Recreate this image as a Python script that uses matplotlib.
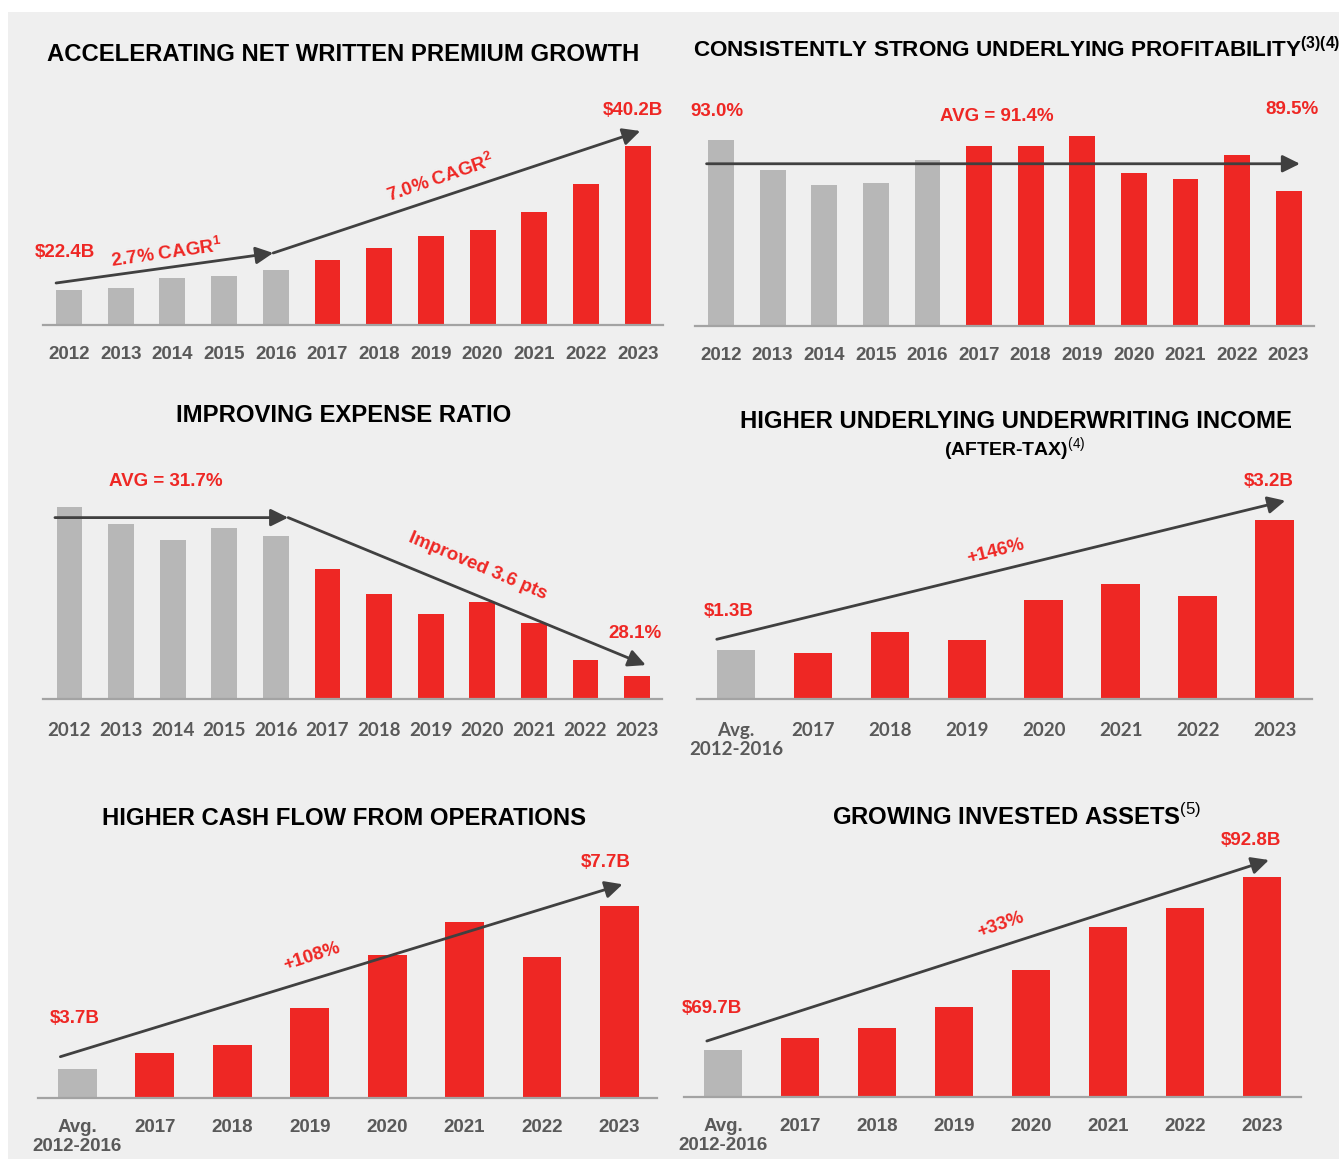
import matplotlib.pyplot as plt
from matplotlib.patches import Rectangle
import numpy as np

plt.rcParams['mathtext.fontset'] = 'custom'
plt.rcParams['mathtext.rm'] = 'Liberation Sans'
plt.rcParams['mathtext.bf'] = 'Liberation Sans:bold'

W, H = 1339, 1159
RED = '#EE2724'
GREY_BAR = '#B7B7B7'
ARROW = '#404040'
TICK = '#595959'
BG = '#EFEFEF'

# ---- data ----
years = ['2012', '2013', '2014', '2015', '2016', '2017',
         '2018', '2019', '2020', '2021', '2022', '2023']
years_avg = ['Avg.\n2012-2016', '2017', '2018', '2019', '2020', '2021', '2022', '2023']

nwp = [22.4, 22.6, 23.9, 24.1, 24.9, 26.1, 27.6, 29.1, 29.8, 32.0, 35.5, 40.2]
combined = [93.0, 90.9, 89.9, 90.0, 91.6, 92.6, 92.6, 93.3, 90.7, 90.3, 92.0, 89.5]
expense = [32.2, 31.8, 31.4, 31.7, 31.5, 30.7, 30.1, 29.6, 29.9, 29.4, 28.5, 28.1]
uw_income = [1.3, 1.26, 1.56, 1.45, 2.03, 2.26, 2.09, 3.2]
cash_flow = [3.7, 4.1, 4.3, 5.2, 6.5, 7.3, 6.45, 7.7]
invested = [69.7, 71.3, 72.6, 75.5, 80.4, 86.1, 88.7, 92.8]

fig = plt.figure(figsize=(W / 100, H / 100), dpi=100, facecolor='white')
fig.patches.append(Rectangle((8 / W, 0), 1 - 8 / W, 1 - 12 / H, transform=fig.transFigure,
                             facecolor=BG, edgecolor='none', zorder=-5))


def panel(left, right, base, top, c0, step, ymin, pxu, labels, values, n_grey,
          tickfont='Liberation Sans', pad=15):
    ax = fig.add_axes([left / W, 1 - base / H, (right - left) / W, (base - top) / H])
    ax.set_facecolor('none')
    ax.set_xlim((left - c0) / step, (right - c0) / step)
    ax.set_ylim(ymin, ymin + (base - top) / pxu)
    x = np.arange(len(values))
    colors = [GREY_BAR] * n_grey + [RED] * (len(values) - n_grey)
    ax.bar(x, values, width=0.5, color=colors, zorder=2)
    for s in ['top', 'left', 'right']:
        ax.spines[s].set_visible(False)
    ax.spines['bottom'].set_color('#A3A3A3')
    ax.spines['bottom'].set_linewidth(1.6)
    ax.spines['bottom'].set_zorder(3)
    ax.set_yticks([])
    ax.set_xticks(x, labels)
    ax.tick_params(axis='x', length=0, pad=pad, labelsize=13.5, labelcolor=TICK)
    for t in ax.get_xticklabels():
        t.set_fontfamily(tickfont)
        t.set_fontweight('bold')
        t.set_linespacing(1.2)
    return ax


def arrow(ax, p0, p1):
    ax.annotate('', xy=p1, xytext=p0, annotation_clip=False,
                arrowprops=dict(arrowstyle='-|>,head_length=1.05,head_width=0.52',
                                color=ARROW, lw=2.0, mutation_scale=10,
                                shrinkA=0, shrinkB=0), zorder=4)


def label(ax, x, y, s, rot=0):
    ax.text(x, y, s, color=RED, fontsize=13.5, fontweight='bold', family='Liberation Sans',
            ha='center', va='center', rotation=rot, rotation_mode='anchor', zorder=5)


def title(x, y, s, size=17.2, ha='center', weight='bold'):
    fig.text(x / W, 1 - y / H, s, fontsize=size, fontweight=weight, family='Liberation Sans',
             ha=ha, va='baseline', color='black')


# 1. Net written premium
ax1 = panel(43, 663, 325, 90, 69, 51.7, 18.07, 8.09, years, nwp, 5)
arrow(ax1, (-0.25, 23.26), (3.95, 26.97))
arrow(ax1, (3.95, 26.97), (11.05, 42.05))
label(ax1, -0.08, 27.03, '$22.4B')
label(ax1, 1.88, 26.97, r'2.7% CAGR$^{\mathbf{1}}$', 8)
label(ax1, 7.18, 36.24, r'7.0% CAGR$^{\mathbf{2}}$', 19)
label(ax1, 10.9, 44.6, '$40.2B')
title(343.5, 60.7, 'ACCELERATING NET WRITTEN PREMIUM GROWTH')

# 2. Underlying combined ratio
ax2 = panel(695, 1314, 326, 90, 721, 51.6, 80.1, 14.4, years, combined, 5)
avg2 = np.mean(combined)
arrow(ax2, (-0.28, avg2), (11.22, avg2))
label(ax2, -0.08, 95.03, '93.0%')
label(ax2, 5.35, 94.68, 'AVG = 91.4%')
label(ax2, 11.07, 95.1, '89.5%')
title(692.6, 56.7, r'CONSISTENTLY STRONG UNDERLYING PROFITABILITY$^{\mathbf{(3)(4)}}$',
      size=16.2, ha='left')

# 3. Expense ratio
ax3 = panel(42.5, 662, 699.3, 460, 69.4, 51.6, 27.54, 41.2, years, expense, 5,
            tickfont='Lato', pad=16)
arrow(ax3, (-0.28, 31.95), (4.24, 31.95))
arrow(ax3, (4.24, 31.95), (11.17, 28.37))
label(ax3, 1.86, 32.82, 'AVG = 31.7%')
label(ax3, 7.92, 30.78, 'Improved 3.6 pts', -23)
label(ax3, 10.96, 29.13, '28.1%')
title(344, 421.7, 'IMPROVING EXPENSE RATIO')

# 4. Underlying underwriting income
ax4 = panel(697, 1312, 699.3, 470, 736, 76.93, 0.58, 68.6, years_avg, uw_income, 1,
            tickfont='Lato', pad=16)
arrow(ax4, (-0.25, 1.455), (7.14, 3.475))
label(ax4, -0.1, 1.853, '$1.3B')
label(ax4, 6.92, 3.75, '$3.2B')
label(ax4, 3.37, 2.73, '+146%', 14)
title(1016, 428.3, 'HIGHER UNDERLYING UNDERWRITING INCOME')
title(944, 456, r'(AFTER-TAX)$^{(4)}$', size=14, ha='left')

# 5. Cash flow from operations
ax5 = panel(38, 657, 1097.7, 850, 77.4, 77.44, 3.0, 40.75, years_avg, cash_flow, 1)
arrow(ax5, (-0.22, 4.006), (7.04, 8.237))
label(ax5, -0.04, 4.936, '$3.7B')
label(ax5, 6.82, 8.78, '$7.7B')
label(ax5, 3.03, 6.46, '+108%', 18)
title(344, 825, 'HIGHER CASH FLOW FROM OPERATIONS')

# 6. Invested assets
ax6 = panel(684, 1300.5, 1096.7, 850, 723, 77, 63.45, 7.476, years_avg, invested, 1)
arrow(ax6, (-0.21, 70.9), (7.09, 95.11))
label(ax6, -0.15, 75.21, '$69.7B')
label(ax6, 6.86, 97.72, '$92.8B')
label(ax6, 3.6, 86.42, '+33%', 19)
title(832.4, 825, r'GROWING INVESTED ASSETS$^{(5)}$', ha='left')

fig.savefig('out.png', dpi=100, facecolor='white')
